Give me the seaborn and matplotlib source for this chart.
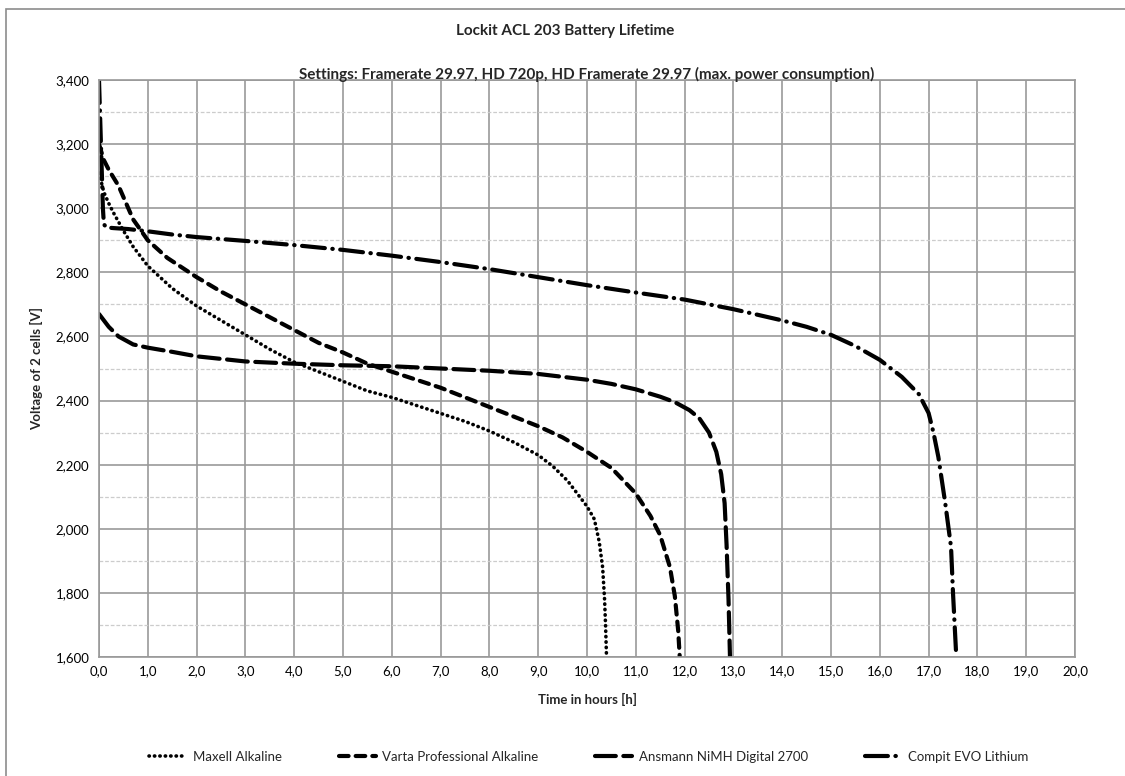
import matplotlib
matplotlib.use("Agg")
import matplotlib.pyplot as plt
from matplotlib.patches import Rectangle
from matplotlib.ticker import MultipleLocator, FuncFormatter
import seaborn as sns

# battery discharge curves
maxell_t = [0.0, 0.1, 0.2, 0.3, 0.5, 0.7, 1.0, 1.5, 2.0, 2.5, 3.0, 3.5, 4.0, 4.5, 5.0, 5.5,
            6.0, 6.5, 7.0, 7.5, 8.0, 8.5, 9.0, 9.3, 9.6, 9.8, 10.0, 10.15, 10.25, 10.32, 10.36,
            10.38, 10.4]
maxell_v = [3110, 3050, 3015, 2985, 2930, 2880, 2820, 2750, 2695, 2650, 2605, 2560, 2520, 2490,
            2460, 2430, 2410, 2385, 2360, 2335, 2305, 2270, 2230, 2195, 2150, 2110, 2070, 2030,
            1960, 1880, 1780, 1700, 1600]

varta_t = [0.0, 0.1, 0.2, 0.4, 0.7, 1.0, 1.4, 2.0, 2.5, 3.0, 3.5, 4.0, 4.5, 5.0, 5.5, 6.0, 6.5,
           7.0, 7.5, 8.0, 8.5, 9.0, 9.5, 10.0, 10.5, 11.0, 11.3, 11.5, 11.7, 11.8, 11.87, 11.9]
varta_v = [3200, 3150, 3120, 3070, 2965, 2900, 2845, 2785, 2740, 2700, 2660, 2620, 2580, 2550,
           2515, 2490, 2465, 2440, 2410, 2380, 2350, 2320, 2285, 2240, 2190, 2110, 2040, 1980,
           1880, 1790, 1680, 1600]

ansmann_t = [0.0, 0.2, 0.4, 0.7, 1.0, 1.5, 2.0, 3.0, 4.0, 5.0, 6.0, 7.0, 8.0, 9.0, 10.0, 10.5,
             11.0, 11.5, 11.8, 12.1, 12.3, 12.5, 12.65, 12.75, 12.82, 12.86, 12.9, 12.93]
ansmann_v = [2670, 2630, 2600, 2575, 2565, 2552, 2538, 2522, 2515, 2510, 2507, 2500, 2493, 2483,
             2465, 2452, 2435, 2412, 2395, 2370, 2345, 2300, 2240, 2170, 2080, 1950, 1780, 1600]

compit_t = [0.0, 0.02, 0.04, 0.06, 0.08, 0.1, 0.15, 0.3, 0.6, 1.0, 1.5, 2.0, 3.0, 4.0, 5.0, 6.0,
            7.0, 8.0, 9.0, 10.0, 11.0, 12.0, 13.0, 14.0, 14.5, 15.0, 15.5, 16.0, 16.45, 16.8,
            17.0, 17.1, 17.2, 17.34, 17.46, 17.5, 17.56]
compit_v = [3400, 3300, 3200, 3100, 3000, 2950, 2940, 2938, 2935, 2928, 2918, 2910, 2898, 2885,
            2870, 2852, 2832, 2810, 2785, 2760, 2737, 2715, 2685, 2650, 2630, 2605, 2570, 2527,
            2474, 2420, 2361, 2300, 2224, 2081, 1943, 1800, 1622]

labels = ["Maxell Alkaline", "Varta Professional Alkaline",
          "Ansmann NiMH Digital 2700", "Compit EVO Lithium"]

sns.set_style("white")
plt.rcParams['font.family'] = ['Lato', 'DejaVu Sans']

fig = plt.figure(figsize=(11.25, 7.76), dpi=100)
ax = fig.add_axes([99 / 1125, 1 - 657 / 776, 976 / 1125, 577 / 776])

series = [
    (maxell_t, maxell_v, (0, (0.1, 1.4)), 2.6),
    (varta_t, varta_v, (0, (2.3, 1.7)), 3.0),
    (ansmann_t, ansmann_v, (0, (5.0, 1.8)), 3.0),
    (compit_t, compit_v, (0, (5.5, 1.8, 0.1, 1.8)), 3.0),
]
for (t, v, ls, lw), lab in zip(series, labels):
    sns.lineplot(x=t, y=v, ax=ax, color="black", linestyle=ls, linewidth=lw,
                 estimator=None, sort=False, label=lab,
                 dash_capstyle="round", solid_capstyle="round")

ax.set_xlim(0, 20)
ax.set_ylim(1600, 3400)
ax.xaxis.set_major_locator(MultipleLocator(1))
ax.yaxis.set_major_locator(MultipleLocator(200))
ax.yaxis.set_minor_locator(MultipleLocator(100))
ax.xaxis.set_major_formatter(FuncFormatter(lambda x, p: f"{x:.1f}".replace(".", ",")))
ax.yaxis.set_major_formatter(FuncFormatter(lambda y, p: f"{int(y):,}"))

ax.grid(which="major", axis="both", color="#999999", lw=1.2)
ax.grid(which="minor", axis="y", color="#cccccc", lw=0.9, ls=(0, (3, 1.5)))
ax.set_axisbelow(True)
for s in ax.spines.values():
    s.set_color("#999999")
    s.set_linewidth(1.2)

ax.tick_params(axis="both", which="major", direction="out", length=4, width=1,
               color="#999999", labelsize=9.5, labelcolor="black")
ax.tick_params(axis="x", pad=2)
ax.tick_params(axis="y", pad=3)
ax.tick_params(axis="y", which="minor", length=0)

ax.set_xlabel("Time in hours [h]", fontsize=9.5, fontweight="bold", labelpad=11)
ax.set_ylabel("Voltage of 2 cells [V]", fontsize=9.5, fontweight="bold", labelpad=9)
ax.set_title("Settings: Framerate 29.97, HD 720p, HD Framerate 29.97 (max. power consumption)",
             fontsize=11, fontweight="bold", pad=0.5)
fig.text(0.502, 1 - 31 / 776, "Lockit ACL 203 Battery Lifetime", ha="center", va="center",
         fontsize=11, fontweight="bold")

ax.legend(loc="center", bbox_to_anchor=(0.502, -100 / 577), ncol=4,
          frameon=False, fontsize=9.5, handlelength=2.8, columnspacing=4.3,
          handletextpad=0.5)

fig.patches.append(Rectangle((6 / 1125, -0.05), 1.1, 1 - 9 / 776 + 0.05,
                             transform=fig.transFigure, fill=False,
                             edgecolor="#8c8c8c", lw=1.2))

fig.savefig("out.png", dpi=100)
